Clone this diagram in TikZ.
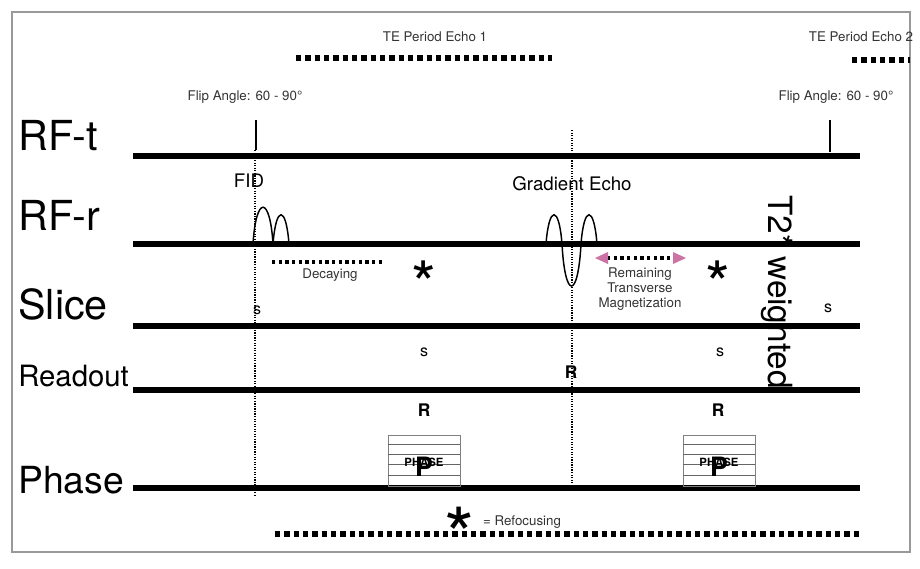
\documentclass[tikz,border=0pt]{standalone}
\usepackage{fontspec}
\setmainfont{TeX Gyre Heros}
\usetikzlibrary{arrows.meta}
\begin{document}
\begin{tikzpicture}[x=0.75pt,y=-0.75pt,
  axis/.style={line width=4pt},
  vdot/.style={densely dotted,line width=0.9pt},
  bigdash/.style={line width=4pt,dash pattern=on 4pt off 3pt},
  lab/.style={font=\fontsize{31}{33}\selectfont,anchor=west,inner sep=0},
  small/.style={font=\fontsize{10}{11}\selectfont,text=black!80},
  star/.style={font=\fontsize{48}{48}\selectfont,inner sep=0},
  wave/.style={line width=1.1pt}]
\useasboundingbox (0,0) rectangle (920,568);
\draw[black!40,line width=0.8pt] (12,12) rectangle (910,552);
% axes
\foreach \n/\y in {rft/156,rfr/244,slice/326,read/390,phase/488}
  {\coordinate (\n a) at (133,\y); \coordinate (\n b) at (860,\y); \draw[axis] (\n a) -- (\n b);}
\node[lab] (l1) at (18,136) {RF-t};
\node[lab] (l2) at (18,215) {RF-r};
\node[lab] (l3) at (18,304) {Slice};
\node[lab,font=\fontsize{22}{24}\selectfont] (l4) at (18,376) {Readout};
\node[lab,font=\fontsize{28}{30}\selectfont] (l5) at (18,480) {Phase};
% verticals
\coordinate (v1t) at (255,150); \coordinate (v1b) at (255,495);
\coordinate (v2t) at (572,130); \coordinate (v2b) at (572,488);
\draw[vdot] (v1t) -- (v1b);
\draw[vdot] (v2t) -- (v2b);
\draw[line width=1.8pt] (256,120) -- (256,150);
\draw[line width=1.8pt] (830,120) -- (830,152);
\node[small] (fa1) at (245,97) {Flip Angle: 60 - 90°};
\node[small] (fa2) at (836,97) {Flip Angle: 60 - 90°};
\node[small] (te1) at (435,37) {TE Period Echo 1};
\node[small] (te2) at (861,37) {TE Period Echo 2};
\draw[bigdash] (296,58) -- (552,58);
\draw[bigdash] (852,60) -- (910,60);
\node[font=\fontsize{14}{15}\selectfont] (fid) at (249,181) {FID};
\node[font=\fontsize{14}{15}\selectfont] (ge) at (572,184) {Gradient Echo};
\node[font=\fontsize{25}{27}\selectfont,rotate=-90] (t2) at (777,292) {T2* weighted};
% waveforms
\draw[wave] (253,244) .. controls (256,195) and (270,195) .. (273,244)
  .. controls (276,205) and (286,205) .. (289,244);
\draw[wave] (546,244) .. controls (549,205) and (559,205) .. (562,244)
  .. controls (565,300) and (578,300) .. (581,244)
  .. controls (584,205) and (594,205) .. (597,244);
% decaying
\draw[line width=2.5pt,dash pattern=on 2.5pt off 2.5pt] (272,262) -- (385,262);
\node[small] (dec) at (330,275) {Decaying};
\draw[line width=2.5pt,dash pattern=on 2.5pt off 2.5pt] (607,258) -- (673,258);
\fill[violet!40!pink] (595,258) -- (608,252) -- (608,264) -- cycle;
\fill[violet!40!pink] (686,258) -- (673,252) -- (673,264) -- cycle;
\node[small,align=center,font=\fontsize{10}{11.5}\selectfont] (rtm) at (640,289) {Remaining\\Transverse\\Magnetization};
% stars
\node[star] (s1) at (424,284) {*};
\node[star] (s2) at (718,284) {*};
\node[star,font=\fontsize{58}{58}\selectfont] (s3) at (460,535) {*};
\node[small] (ref) at (522,522) {= Refocusing};
\draw[bigdash] (275,534) -- (860,534);
% s and R
\foreach \n/\x/\y in {a1/257/310,a2/424/352,a3/720/352,a4/828/308}
  \node[font=\fontsize{12}{13}\selectfont] (\n) at (\x,\y) {s};
\foreach \n/\x/\y in {r1/571/372,r2/424/410,r3/718/410}
  \node[font=\bfseries\fontsize{13}{14}\selectfont] (\n) at (\x,\y) {R};
% phase boxes
\foreach \n/\x in {p1/388,p2/683}{
  \draw[black!50,line width=0.6pt] (\x,435) rectangle (\x+72,486);
  \foreach \yy in {444,454,464,475} \draw[black!60,line width=0.5pt] (\x,\yy) -- (\x+72,\yy);
  \node[font=\bfseries\fontsize{20}{20}\selectfont,inner sep=0] (\n) at (\x+36,467) {P};
  \node[font=\bfseries\fontsize{8.5}{9}\selectfont,inner sep=0] (\n t) at (\x+36,462) {PHASE};
}
\end{tikzpicture}
\end{document}
